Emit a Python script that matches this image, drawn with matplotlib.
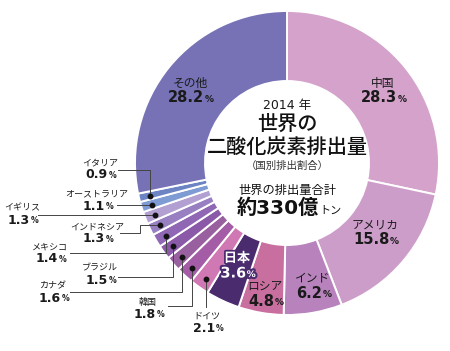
import matplotlib
matplotlib.use("Agg")
import matplotlib.pyplot as plt
import matplotlib.patheffects as pe
import numpy as np

plt.rcParams['font.family'] = ['Noto Sans CJK JP', 'DejaVu Sans']
NUM_FONT = ['DejaVu Sans', 'Noto Sans CJK JP']

# 国別排出割合 (2014年), 時計回りに上から
countries = ['中国', 'アメリカ', 'インド', 'ロシア', '日本', 'ドイツ', '韓国', 'カナダ',
             'ブラジル', 'メキシコ', 'インドネシア', 'イギリス', 'オーストラリア', 'イタリア', 'その他']
shares = [28.3, 15.8, 6.2, 4.8, 3.6, 2.1, 1.8, 1.6, 1.5, 1.4, 1.3, 1.3, 1.1, 0.9, 28.2]
colors = ['#d4a2ca', '#cd9dca', '#b883bd', '#c96fa0', '#4a2b6d', '#cf78b3', '#a35ca5',
          '#99609f', '#8a5aa9', '#9067b4', '#977fc2', '#b3a0d2', '#7f9bd4', '#6c84c4', '#7672b5']

# ラベル位置 (画像px座標)
inside_pos = {'中国': (383, 83), 'アメリカ': (375, 225), 'インド': (313, 278),
              'ロシア': (265, 286), '日本': (237, 258), 'その他': (190, 83)}
outside_pos = {'イタリア': (100, 163), 'オーストラリア': (97, 194), 'イギリス': (22, 208),
               'インドネシア': (97, 227), 'メキシコ': (50, 247), 'ブラジル': (100, 268),
               'カナダ': (53, 286), '韓国': (148, 302), 'ドイツ': (207, 316)}
# 引き出し線の始点 (x, y)
leader_start = {'イタリア': (118, 170), 'オーストラリア': (117, None), 'イギリス': (38, None),
                'インドネシア': (120, 233), 'メキシコ': (70, 253), 'ブラジル': (118, 277),
                'カナダ': (70, 292), '韓国': (168, 306), 'ドイツ': (None, 307)}

W, H = 450, 351
fig = plt.figure(figsize=(4.5, 3.51), dpi=100)
ax = fig.add_axes([0, 0, 1, 1])

cx, cy, R, r_in = 287, H - 163, 152, 82

wedges, _ = ax.pie(shares, colors=colors, startangle=90, counterclock=False,
                   center=(cx, cy), radius=R, frame=True,
                   wedgeprops=dict(width=R - r_in, edgecolor='white', linewidth=1.4))
ax.set_xlim(0, W)
ax.set_ylim(0, H)
ax.set_aspect('equal')
ax.axis('off')

def Y(py):
    return H - py

def pct_label(x, py, num, size, color='#1a1a1a', psize=None, stroke=None):
    eff = [pe.withStroke(linewidth=3, foreground=stroke)] if stroke else None
    t = ax.text(x - size * 0.35, Y(py), num, ha='center', va='center', fontsize=size,
                fontweight='bold', color=color, path_effects=eff, family=NUM_FONT)
    ax.annotate('%', xy=(1, 0.1), xycoords=t, xytext=(0.3, 0), textcoords='offset points',
                ha='left', va='bottom', fontsize=psize or size * 0.62, fontweight='bold',
                color=color, path_effects=eff, family=NUM_FONT)

for name, (x, py) in inside_pos.items():
    v = shares[countries.index(name)]
    if name == '日本':
        ax.text(x, Y(py), name, ha='center', va='center', fontsize=9.5, color='white',
                fontweight='bold', path_effects=[pe.withStroke(linewidth=2.5, foreground='#4a2b6d')])
        pct_label(x, py + 15, f'{v:.1f}', 10.5, color='white', stroke='#4a2b6d')
    else:
        ax.text(x, Y(py), name, ha='center', va='center', fontsize=8.5, color='#1a1a1a')
        pct_label(x, py + 15, f'{v:.1f}', 10.5)

# 外側ラベルと引き出し線
cum = np.cumsum([0] + shares)
r_dot = 0.93 * R
for name, (x, py) in outside_pos.items():
    i = countries.index(name)
    mid = (cum[i] + cum[i + 1]) / 2 / 100 * 360
    ang = np.deg2rad(90 - mid)
    dx, dy = cx + r_dot * np.cos(ang), cy + r_dot * np.sin(ang)
    ax.text(x, Y(py), name, ha='center', va='center', fontsize=6.5, color='#1a1a1a')
    pct_label(x, py + 12, f'{shares[i]:.1f}', 9)
    sx, sy = leader_start[name]
    if name == 'インドネシア':
        xs = [sx, 140, 140, dx]
        ys = [Y(sy), Y(sy), dy, dy]
    elif name == 'ドイツ':
        xs = [dx, dx]
        ys = [dy, Y(sy)]
    elif sy is None:
        xs = [sx, dx]
        ys = [dy, dy]
    else:
        xs = [sx, dx, dx]
        ys = [Y(sy), Y(sy), dy]
    ax.plot(xs, ys, color='#444444', lw=0.7, zorder=3)
    ax.plot(dx, dy, 'o', color='#111111', ms=3.2, zorder=4)

# 中央テキスト
ax.text(cx, Y(105), '2014 年', ha='center', va='center', fontsize=9, color='#1a1a1a',
        family=NUM_FONT)
ax.text(cx, Y(124), '世界の', ha='center', va='center', fontsize=14.5, color='#111111',
        fontweight='medium')
ax.text(cx, Y(147), '二酸化炭素排出量', ha='center', va='center', fontsize=14.5,
        color='#111111', fontweight='medium')
ax.text(cx, Y(166), '（国別排出割合）', ha='center', va='center', fontsize=7.5, color='#333333')
ax.text(cx, Y(190), '世界の排出量合計', ha='center', va='center', fontsize=8.8, color='#111111')
t = ax.text(cx - 9, Y(208), '約330億', ha='center', va='center', fontsize=14.5,
            fontweight='bold', color='#111111', family=NUM_FONT)
ax.annotate('トン', xy=(1, 0.1), xycoords=t, xytext=(0.5, 0), textcoords='offset points',
            ha='left', va='bottom', fontsize=8, color='#111111')

fig.savefig('out.png', dpi=100, facecolor='white')
